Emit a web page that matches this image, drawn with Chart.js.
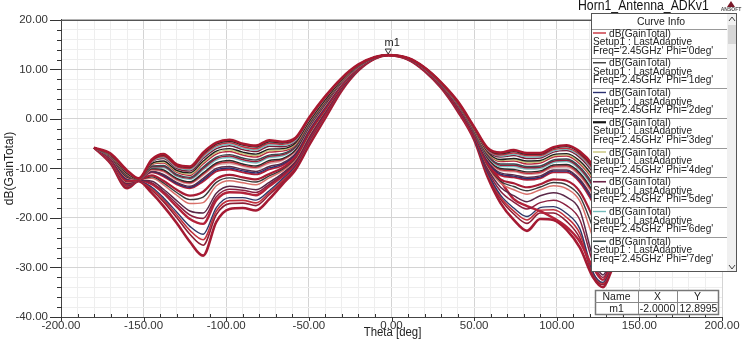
<!DOCTYPE html>
<html>
<head>
<meta charset="utf-8">
<script src="https://cdn.jsdelivr.net/npm/chart.js@4.4.1/dist/chart.umd.min.js"></script>
<style>
html,body{margin:0;padding:0;background:#fff;overflow:hidden}
canvas{display:block}
</style>
</head>
<body>
<canvas id="c" width="745" height="339"></canvas>
<script>
// Theta sample points [deg]
const theta = [-180,-170,-160,-153,-145,-138,-130,-122,-114,-106,-98,-90,-82,-74,-66,-58,-50,-40,-30,-20,-10,-2,10,20,30,40,50,58,66,74,82,90,98,106,114,122,128,134,145,160,180];

// dB(GainTotal) cuts, one array per phi cut (upper family first, deep-null cuts last)
const cut0  = [-5.8,-7.0,-10.4,-12.0,-8.2,-7.1,-9.2,-9.6,-6.8,-4.8,-4.2,-5.0,-5.4,-4.3,-4.6,-3.8,0.2,4.6,8.3,11.0,12.5,12.9,12.3,10.4,7.4,3.6,-1.6,-5.8,-6.8,-6.3,-6.9,-6.9,-5.7,-5.3,-6.6,-9.4,-13,-17,-19,-13,-5.8];
const cut1  = [-5.8,-7.05,-10.5,-12.0,-8.35,-7.35,-9.4,-9.8,-7.1,-5.1,-4.5,-5.3,-5.7,-4.6,-4.85,-3.95,0.05,4.5,8.25,10.95,12.5,12.9,12.3,10.4,7.38,3.55,-1.65,-5.95,-7.05,-6.6,-7.15,-7.15,-5.95,-5.6,-6.9,-9.8,-13.4,-17.3,-19.15,-13.05,-5.8];
const cut2  = [-5.8,-7.1,-10.6,-12.0,-8.5,-7.6,-9.6,-10.0,-7.4,-5.4,-4.8,-5.6,-6.0,-4.9,-5.1,-4.1,-0.1,4.4,8.2,10.9,12.5,12.9,12.3,10.4,7.35,3.5,-1.7,-6.1,-7.3,-6.9,-7.4,-7.4,-6.2,-5.9,-7.2,-10.2,-13.8,-17.6,-19.3,-13.1,-5.8];
const cut3  = [-5.8,-7.15,-10.7,-12.0,-8.6,-7.8,-9.8,-10.25,-7.7,-5.7,-5.1,-5.9,-6.3,-5.2,-5.35,-4.3,-0.2,4.3,8.15,10.9,12.5,12.9,12.3,10.35,7.33,3.45,-1.8,-6.25,-7.5,-7.15,-7.7,-7.65,-6.45,-6.15,-7.5,-10.55,-14.2,-17.9,-19.45,-13.15,-5.8];
const cut4  = [-5.8,-7.2,-10.8,-12.0,-8.7,-8.0,-10.0,-10.5,-8.0,-6.0,-5.4,-6.2,-6.6,-5.5,-5.6,-4.5,-0.3,4.2,8.1,10.9,12.5,12.9,12.3,10.3,7.3,3.4,-1.9,-6.4,-7.7,-7.4,-8.0,-7.9,-6.7,-6.4,-7.8,-10.9,-14.6,-18.2,-19.6,-13.2,-5.8];
const cut5  = [-5.8,-7.3,-11.0,-12.1,-9.0,-8.5,-10.4,-10.9,-8.5,-6.5,-6.0,-6.7,-7.1,-6.1,-6.0,-4.8,-0.6,3.9,7.9,10.8,12.45,12.9,12.25,10.3,7.25,3.3,-2.0,-6.6,-8.2,-8.0,-8.5,-8.4,-7.2,-7.0,-8.5,-11.7,-15.4,-18.8,-19.9,-13.3,-5.8];
const cut6  = [-5.8,-7.35,-11.1,-12.1,-9.1,-8.7,-10.6,-11.15,-8.8,-6.8,-6.3,-7.0,-7.4,-6.4,-6.25,-5.0,-0.7,3.8,7.85,10.8,12.45,12.9,12.25,10.3,7.22,3.25,-2.1,-6.75,-8.4,-8.25,-8.8,-8.65,-7.45,-7.25,-8.8,-12.05,-15.8,-19.1,-20.05,-13.35,-5.8];
const cut7  = [-5.8,-7.4,-11.2,-12.1,-9.2,-8.9,-10.8,-11.4,-9.1,-7.1,-6.6,-7.3,-7.7,-6.7,-6.5,-5.2,-0.8,3.7,7.8,10.8,12.45,12.9,12.25,10.3,7.2,3.2,-2.2,-6.9,-8.6,-8.5,-9.1,-8.9,-7.7,-7.5,-9.1,-12.4,-16.2,-19.4,-20.2,-13.4,-5.8];
const cut8  = [-5.8,-7.5,-11.4,-12.1,-9.5,-9.4,-11.2,-11.8,-9.7,-7.7,-7.2,-7.9,-8.3,-7.3,-7.0,-5.5,-1.1,3.5,7.7,10.7,12.4,12.9,12.2,10.2,7.15,3.15,-2.3,-7.2,-9.1,-9.1,-9.6,-9.5,-8.3,-8.1,-9.7,-13.2,-17,-20,-20.5,-13.5,-5.8];
const cut9  = [-5.8,-7.55,-11.45,-12.1,-9.65,-9.6,-11.4,-12.0,-10.0,-8.0,-7.5,-8.2,-8.6,-7.55,-7.25,-5.65,-1.25,3.4,7.65,10.65,12.4,12.9,12.2,10.2,7.12,3.1,-2.35,-7.35,-9.35,-9.35,-9.85,-9.75,-8.55,-8.35,-10.0,-13.6,-17.4,-20.3,-20.65,-13.55,-5.8];
const cut10 = [-5.8,-7.6,-11.5,-12.1,-9.8,-9.8,-11.6,-12.2,-10.3,-8.3,-7.8,-8.5,-8.9,-7.8,-7.5,-5.8,-1.4,3.3,7.6,10.6,12.4,12.9,12.2,10.2,7.1,3.05,-2.4,-7.5,-9.6,-9.6,-10.1,-10.0,-8.8,-8.6,-10.3,-14.0,-17.8,-20.6,-20.8,-13.6,-5.8];
const cut11 = [-5.8,-7.7,-11.7,-12.1,-10.0,-10.3,-12.0,-12.7,-10.9,-8.9,-8.4,-9.1,-9.5,-8.4,-8.0,-6.2,-1.6,3.1,7.5,10.6,12.4,12.9,12.2,10.2,7.05,3.0,-2.6,-7.8,-10.0,-10.2,-10.7,-10.5,-9.3,-9.2,-10.9,-14.7,-18.6,-21.2,-21.1,-13.7,-5.8];
const cut12 = [-5.8,-7.75,-11.8,-12.15,-10.15,-10.5,-12.2,-12.9,-11.15,-9.15,-8.7,-9.35,-9.75,-8.7,-8.2,-6.35,-1.75,2.95,7.4,10.55,12.4,12.9,12.2,10.15,7.02,2.95,-2.65,-7.9,-10.25,-10.45,-10.95,-10.75,-9.55,-9.45,-11.25,-15.1,-19.0,-21.5,-21.25,-13.75,-5.8];
const cut13 = [-5.8,-7.8,-11.9,-12.2,-10.3,-10.7,-12.4,-13.1,-11.4,-9.4,-9.0,-9.6,-10.0,-9.0,-8.4,-6.5,-1.9,2.8,7.3,10.5,12.4,12.9,12.2,10.1,7.0,2.9,-2.7,-8.0,-10.5,-10.7,-11.2,-11.0,-9.8,-9.7,-11.6,-15.5,-19.4,-21.8,-21.4,-13.8,-5.8];
const cut14 = [-5.8,-7.9,-12.1,-12.2,-10.5,-11.2,-12.8,-13.6,-12.0,-10.0,-9.6,-10.2,-10.6,-9.6,-8.9,-6.9,-2.1,2.6,7.2,10.5,12.35,12.9,12.15,10.1,6.95,2.8,-2.9,-8.3,-10.9,-11.3,-11.8,-11.5,-10.3,-10.3,-12.2,-16.2,-20.2,-22.4,-21.7,-13.9,-5.8];
const cut15 = [-5.8,-7.95,-12.2,-12.2,-10.65,-11.4,-13.0,-13.8,-12.3,-10.3,-9.9,-10.5,-10.9,-9.9,-9.15,-7.05,-2.25,2.5,7.15,10.45,12.35,12.89,12.15,10.08,6.92,2.75,-2.95,-8.45,-11.15,-11.55,-12.05,-11.75,-10.55,-10.55,-12.5,-16.6,-20.6,-22.7,-21.85,-13.95,-5.8];
const cut16 = [-5.8,-8.0,-12.3,-12.2,-10.8,-11.6,-13.2,-14.0,-12.6,-10.6,-10.2,-10.8,-11.2,-10.2,-9.4,-7.2,-2.4,2.4,7.1,10.4,12.35,12.88,12.15,10.05,6.9,2.7,-3.0,-8.6,-11.4,-11.8,-12.3,-12.0,-10.8,-10.8,-12.8,-17.0,-21,-23,-22,-14,-5.8];
const cut17 = [-5.8,-8.1,-12.5,-12.3,-11.4,-12.5,-14.3,-15.5,-14.7,-12.1,-11.3,-11.8,-12.2,-11.1,-9.9,-7.6,-2.8,2.1,6.9,10.3,12.33,12.88,12.13,10.0,6.8,2.5,-3.2,-9.0,-12.2,-13.0,-13.8,-13.2,-12.2,-12.5,-14.7,-20,-25,-24,-22.4,-14.1,-5.8];
const cut18 = [-5.8,-8.2,-12.65,-12.3,-11.7,-12.9,-14.85,-16.3,-15.8,-12.8,-11.9,-12.35,-12.75,-11.5,-10.2,-7.85,-3.05,1.95,6.8,10.25,12.32,12.88,12.12,9.98,6.75,2.45,-3.25,-9.25,-12.6,-13.65,-14.5,-13.75,-12.85,-13.3,-15.65,-22,-27,-25,-22.65,-14.2,-5.8];
const cut19 = [-5.8,-8.3,-12.8,-12.3,-12.0,-13.3,-15.4,-17.1,-16.9,-13.5,-12.5,-12.9,-13.3,-11.9,-10.5,-8.1,-3.3,1.8,6.7,10.2,12.3,12.87,12.1,9.95,6.7,2.4,-3.3,-9.5,-13.0,-14.3,-15.2,-14.3,-13.5,-14.1,-16.6,-24,-29,-26,-22.9,-14.3,-5.8];
const cut20 = [-5.8,-8.4,-13.0,-12.4,-12.6,-14.2,-16.5,-18.6,-19.0,-15.0,-13.6,-13.9,-14.3,-12.8,-11.0,-8.5,-3.7,1.5,6.5,10.1,12.3,12.87,12.09,9.9,6.6,2.2,-3.5,-9.9,-13.8,-15.5,-16.7,-15.5,-14.9,-15.8,-18.5,-28,-31.5,-27.5,-23.3,-14.4,-5.8];
const cut21 = [-5.8,-8.5,-13.15,-12.4,-12.9,-14.6,-17.1,-19.4,-20.1,-15.7,-14.2,-14.4,-14.85,-13.2,-11.3,-8.7,-3.9,1.3,6.45,10.1,12.28,12.86,12.08,9.88,6.58,2.15,-3.6,-10.3,-14.6,-16.8,-18.2,-16.9,-16.4,-17.5,-20.4,-29,-32,-28,-23.5,-14.5,-5.8];
const cut22 = [-5.8,-8.6,-13.3,-12.4,-13.2,-15.0,-17.7,-20.2,-21.2,-16.4,-14.8,-14.9,-15.4,-13.6,-11.6,-8.9,-4.1,1.1,6.4,10.1,12.27,12.86,12.06,9.85,6.55,2.1,-3.7,-8.0,-12.5,-16.2,-17.6,-18.6,-20.0,-21.8,-24.8,-30,-32.5,-28.5,-23.7,-14.6,-5.8];
const cut23 = [-5.8,-8.7,-13.5,-12.5,-13.8,-15.9,-18.8,-21.7,-23.3,-17.9,-15.9,-15.9,-16.4,-14.5,-12.1,-9.3,-4.5,0.8,6.2,10.0,12.25,12.86,12.04,9.8,6.5,1.9,-3.9,-10.7,-15.4,-18.0,-19.7,-17.9,-17.7,-19.1,-22.2,-31,-33,-29,-24.1,-14.7,-5.8];
const cut24 = [-5.8,-8.8,-13.65,-12.5,-14.1,-16.3,-19.35,-22.5,-24.4,-18.6,-16.5,-16.45,-16.95,-14.9,-12.4,-9.55,-4.75,0.65,6.1,9.95,12.23,12.85,12.03,9.78,6.45,1.85,-3.95,-10.95,-15.8,-18.6,-20.4,-18.45,-18.35,-19.9,-23.15,-31.2,-33.2,-29.2,-24.35,-14.8,-5.8];
const cut25 = [-5.8,-8.9,-13.8,-12.5,-14.4,-16.7,-19.9,-23.3,-25.5,-19.3,-17.1,-17.0,-17.5,-15.3,-12.7,-9.8,-5.0,0.5,6.0,9.9,12.22,12.85,12.02,9.75,6.4,1.8,-4.0,-11.2,-16.2,-19.2,-21.1,-19.0,-19.0,-20.7,-24.1,-31.5,-33.5,-29.5,-24.6,-14.9,-5.8];
const cut26 = [-5.8,-9.0,-14.0,-12.6,-15.0,-17.6,-21.0,-24.8,-27.6,-20.8,-18.2,-18.0,-18.5,-16.2,-13.2,-10.2,-5.4,0.2,5.8,9.8,12.2,12.85,12.0,9.7,6.3,1.6,-4.2,-11.6,-17.0,-20.4,-22.6,-20.2,-20.4,-22.4,-26.0,-32,-34,-30,-25,-15,-5.8];

const cuts = [cut0,cut1,cut2,cut3,cut4,cut5,cut6,cut7,cut8,cut9,cut10,cut11,cut12,cut13,cut14,cut15,cut16,cut17,cut18,cut19,cut20,cut21,cut22,cut23,cut24,cut25,cut26];
const cutColors = ['#a8182f','#2b2b2b','#c03040','#74bcbc','#7a1c38','#1e1e1e','#c8c47a','#b82840','#3a4a50','#9a1a36','#74bcbc','#2b2b2b','#c0303c','#d8a0a0','#5a2a48','#2a3070','#b01e38','#a81c34','#3a3a3a','#d8706a','#5a2848','#8a2040','#b3223a','#303868','#c0303c','#8c1c34','#a51a33'];
const cutWidths = [2.6,1.4,1.5,1.4,1.5,1.4,1.4,1.5,1.4,1.5,1.4,1.4,1.5,1.4,1.4,1.4,1.9,2.2,1.4,1.5,1.5,1.5,2.4,1.4,1.6,1.6,2.6];

// Curve Info entries
const legendPhi = [0,1,2,3,4,5,6,7];
const legendColors = ['#c8303c','#3a3a3a','#2a3070','#141414','#c8c47a','#6a2446','#74bcbc','#3e4c4c'];
const legendWidths = [1.4,1.4,1.4,2.2,1.4,1.6,1.4,1.6];

// marker m1
const markerName = 'm1';
const markerTheta = -2;
const markerGain = 12.8995;

const FONT = '"Liberation Sans", Arial, sans-serif';

function hText(ctx, text, x, y, scale, align) {
  ctx.save();
  ctx.translate(x, y);
  ctx.scale(scale, 1);
  ctx.textAlign = align || 'left';
  ctx.fillText(text, 0, 0);
  ctx.restore();
}

const decor = {
  id: 'decor',
  afterDatasetsDraw(chart) {
    const {ctx, scales: {x, y}} = chart;
    const mx = x.getPixelForValue(markerTheta);
    const my = y.getPixelForValue(markerGain);
    ctx.save();
    ctx.strokeStyle = '#333'; ctx.lineWidth = 1;
    ctx.beginPath();
    ctx.moveTo(mx - 3, my - 6); ctx.lineTo(mx + 3, my - 6); ctx.lineTo(mx, my - 1); ctx.closePath();
    ctx.stroke();
    ctx.fillStyle = '#222'; ctx.font = '11px ' + FONT; ctx.textBaseline = 'middle';
    ctx.textAlign = 'center';
    ctx.fillText(markerName, mx + 4, my - 12);
    ctx.restore();
  },
  afterDraw(chart) {
    const {ctx, chartArea: a, scales: {x, y}} = chart;
    ctx.save();
    // frame top
    ctx.strokeStyle = '#555'; ctx.lineWidth = 1.2;
    ctx.beginPath(); ctx.moveTo(a.left, a.top + 0.5); ctx.lineTo(a.right, a.top + 0.5); ctx.stroke();
    // tick marks
    ctx.strokeStyle = '#333'; ctx.lineWidth = 1;
    for (let v = -40; v <= 20; v += 2) {
      const py = Math.round(y.getPixelForValue(v)) + 0.5;
      const major = v % 10 === 0;
      ctx.beginPath(); ctx.moveTo(major ? a.left - 11 : a.left - 4, py); ctx.lineTo(a.left + (major ? 0 : 1), py); ctx.stroke();
    }
    for (let v = -200; v <= 200; v += 10) {
      const px = Math.round(x.getPixelForValue(v)) + 0.5;
      const major = v % 50 === 0;
      ctx.beginPath();
      if (major) { ctx.moveTo(px, a.bottom); ctx.lineTo(px, a.bottom + 4); }
      else { ctx.moveTo(px, a.bottom - 3); ctx.lineTo(px, a.bottom); }
      ctx.stroke();
    }
    // axis titles
    ctx.fillStyle = '#222'; ctx.font = '12px ' + FONT; ctx.textBaseline = 'middle';
    ctx.save(); ctx.translate(10, (a.top + a.bottom) / 2); ctx.rotate(-Math.PI / 2);
    ctx.textAlign = 'center'; ctx.fillText('dB(GainTotal)', 0, 0); ctx.restore();
    hText(ctx, 'Theta [deg]', (a.left + a.right) / 2 + 1, 333, 0.95, 'center');

    // Curve Info panel
    const L = 591, T = 13, R = 737, B = 272, SB = 727;
    ctx.fillStyle = '#fff'; ctx.fillRect(L, T, R - L, B - T);
    ctx.fillStyle = '#f0f0f0'; ctx.fillRect(SB, T, R - SB, B - T);
    ctx.fillStyle = '#d6d6d6'; ctx.fillRect(SB + 1, 25, R - SB - 2, 19);
    ctx.strokeStyle = '#444'; ctx.lineWidth = 1;
    ctx.beginPath(); ctx.moveTo(SB + 2, 21); ctx.lineTo(SB + 5, 17); ctx.lineTo(SB + 8, 21); ctx.stroke();
    ctx.beginPath(); ctx.moveTo(SB + 2, B - 7); ctx.lineTo(SB + 5, B - 3); ctx.lineTo(SB + 8, B - 7); ctx.stroke();
    ctx.strokeStyle = '#555'; ctx.lineWidth = 1;
    ctx.strokeRect(L + 0.5, T + 0.5, R - L - 1, B - T - 1);
    ctx.fillStyle = '#222'; ctx.font = '11px ' + FONT; ctx.textBaseline = 'middle';
    hText(ctx, 'Curve Info', 661, 21.5, 0.95, 'center');
    const pitch = 29.75, top0 = 28.5;
    legendPhi.forEach((phi, i) => {
      const t = top0 + i * pitch;
      ctx.strokeStyle = '#999'; ctx.lineWidth = 1;
      ctx.beginPath(); ctx.moveTo(L + 1, Math.round(t) + 0.5); ctx.lineTo(SB, Math.round(t) + 0.5); ctx.stroke();
      ctx.strokeStyle = legendColors[i]; ctx.lineWidth = legendWidths[i];
      ctx.beginPath(); ctx.moveTo(593, t + 4.5); ctx.lineTo(606, t + 4.5); ctx.stroke();
      ctx.fillStyle = '#222'; ctx.font = '11px ' + FONT;
      hText(ctx, 'dB(GainTotal)', 609, t + 5, 0.92, 'left');
      hText(ctx, 'Setup1 : LastAdaptive', 593, t + 13.5, 0.92, 'left');
      hText(ctx, "Freq='2.45GHz' Phi='" + phi + "deg'", 593, t + 22, 0.92, 'left');
    });

    // plot title and logo, above the panel edge
    ctx.font = '14px ' + FONT; ctx.fillStyle = '#111'; ctx.textBaseline = 'middle';
    hText(ctx, 'Horn1_Antenna_ADKv1', 578, 6.5, 0.875, 'left');
    ctx.fillStyle = '#7a1a2a';
    ctx.beginPath(); ctx.moveTo(731, 1); ctx.lineTo(735, 7); ctx.lineTo(727, 7); ctx.closePath(); ctx.fill();
    ctx.font = 'bold 5px ' + FONT; ctx.fillStyle = '#555';
    hText(ctx, 'ANSOFT', 731, 10, 1, 'center');

    // marker table
    const tx = 595, ty = 290, tw = 123, th = 24, c1 = 638, c2 = 677;
    ctx.fillStyle = '#fff'; ctx.fillRect(tx, ty, tw, th);
    ctx.strokeStyle = '#777'; ctx.lineWidth = 1.5;
    ctx.strokeRect(tx + 0.5, ty + 0.5, tw, th);
    ctx.lineWidth = 1; ctx.strokeStyle = '#888';
    ctx.beginPath();
    ctx.moveTo(tx, ty + 12.5); ctx.lineTo(tx + tw, ty + 12.5);
    ctx.moveTo(c1 + 0.5, ty); ctx.lineTo(c1 + 0.5, ty + th);
    ctx.moveTo(c2 + 0.5, ty); ctx.lineTo(c2 + 0.5, ty + th);
    ctx.stroke();
    ctx.fillStyle = '#222'; ctx.font = '11px ' + FONT;
    hText(ctx, 'Name', (tx + c1) / 2, ty + 6.5, 0.95, 'center');
    hText(ctx, 'X', (c1 + c2) / 2, ty + 6.5, 0.95, 'center');
    hText(ctx, 'Y', (c2 + tx + tw) / 2, ty + 6.5, 0.95, 'center');
    hText(ctx, markerName, (tx + c1) / 2, ty + 18.5, 0.95, 'center');
    hText(ctx, markerTheta.toFixed(4), (c1 + c2) / 2, ty + 18.5, 0.95, 'center');
    hText(ctx, markerGain.toFixed(4), (c2 + tx + tw) / 2 + 1, ty + 18.5, 0.95, 'center');
    ctx.restore();
  }
};

const datasets = cuts.map((vals, k) => ({
  label: 'cut ' + k,
  data: theta.map((t, i) => ({x: t, y: vals[i]})),
  borderColor: cutColors[k],
  borderWidth: cutWidths[k],
  pointRadius: 0,
  fill: false,
  cubicInterpolationMode: 'monotone'
}));

new Chart(document.getElementById('c'), {
  type: 'line',
  data: {datasets},
  options: {
    responsive: false,
    devicePixelRatio: 1,
    animation: false,
    events: [],
    layout: {padding: {left: 0, top: 17, right: 23, bottom: 0}},
    plugins: {legend: {display: false}, tooltip: {enabled: false}, title: {display: false}},
    scales: {
      x: {
        type: 'linear', min: -200, max: 200,
        afterFit: s => { s.height = 22; },
        border: {display: true, color: '#444', width: 1},
        grid: {drawTicks: false, color: c => (c.tick && c.tick.value % 50 === 0) ? '#d4d4d4' : '#eeeeee', lineWidth: 1},
        ticks: {stepSize: 10, autoSkip: false, maxRotation: 0, padding: 2, color: '#333',
          font: {family: FONT, size: 11.5},
          callback: v => (v % 50 === 0) ? v.toFixed(2) : ''}
      },
      y: {
        type: 'linear', min: -40, max: 20,
        afterFit: s => { s.width = 61; },
        border: {display: true, color: '#444', width: 1},
        grid: {drawTicks: false, color: c => (c.tick && c.tick.value % 10 === 0) ? '#d4d4d4' : '#eeeeee', lineWidth: 1},
        ticks: {stepSize: 2, autoSkip: false, padding: 13, color: '#333',
          font: {family: FONT, size: 11.5},
          callback: v => (v % 10 === 0) ? v.toFixed(2) : ''}
      }
    }
  },
  plugins: [decor]
});
</script>
</body>
</html>
